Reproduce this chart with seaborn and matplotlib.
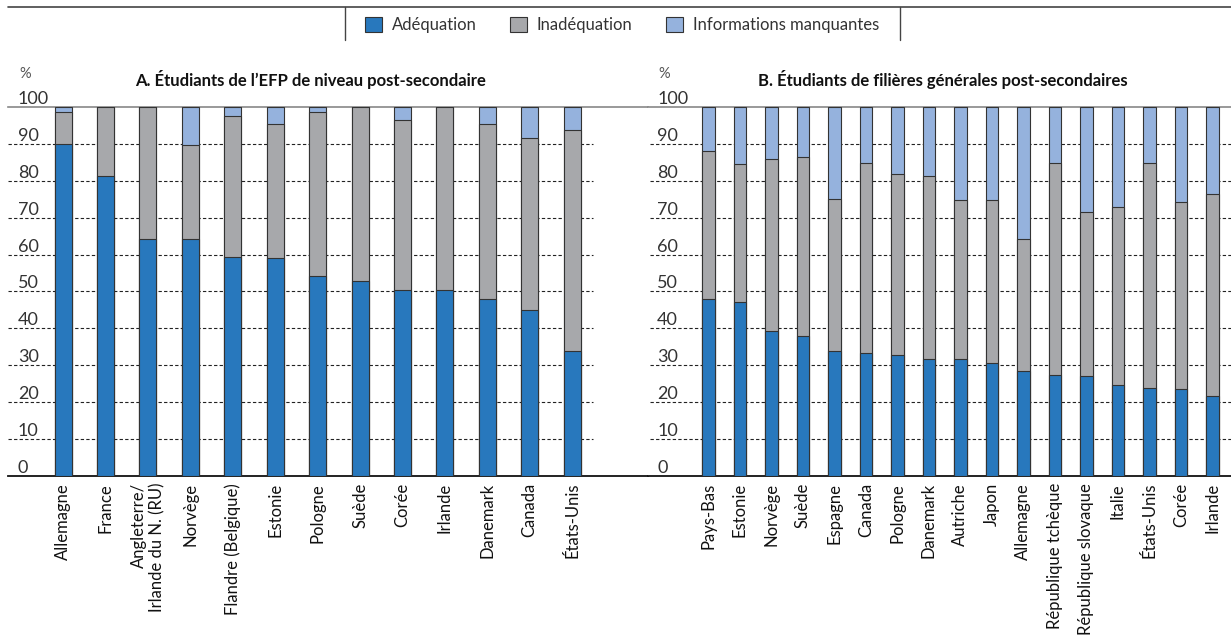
import pandas as pd
import matplotlib.pyplot as plt
import seaborn as sns
from matplotlib.patches import Patch
from matplotlib.lines import Line2D

# Panel A - VET post-secondary students
pays_a = ["Allemagne", "France", "Angleterre/\nIrlande du N. (RU)", "Norvège", "Flandre (Belgique)",
          "Estonie", "Pologne", "Suède", "Corée", "Irlande", "Danemark", "Canada", "États-Unis"]
adeq_a = [89.9, 81.3, 64.3, 64.3, 59.4, 59.1, 54.3, 52.9, 50.5, 50.3, 48.1, 45.1, 33.8]
inadeq_a = [8.8, 18.7, 35.7, 25.3, 38.2, 36.2, 44.4, 47.1, 45.9, 49.7, 47.4, 46.6, 60.0]
manq_a = [1.3, 0.0, 0.0, 10.4, 2.4, 4.7, 1.3, 0.0, 3.6, 0.0, 4.5, 8.3, 6.2]

# Panel B - general post-secondary students
pays_b = ["Pays-Bas", "Estonie", "Norvège", "Suède", "Espagne", "Canada", "Pologne", "Danemark",
          "Autriche", "Japon", "Allemagne", "République tchèque", "République slovaque", "Italie",
          "États-Unis", "Corée", "Irlande"]
adeq_b = [48.1, 47.1, 39.2, 38.0, 33.8, 33.3, 32.7, 31.7, 31.6, 30.5, 28.5, 27.4, 27.2, 24.6, 23.8, 23.5, 21.6]
inadeq_b = [39.9, 37.4, 46.7, 48.4, 41.2, 51.4, 49.1, 49.7, 43.2, 44.3, 35.8, 57.4, 44.4, 48.3, 61.0, 50.7, 54.9]
manq_b = [12.0, 15.5, 14.1, 13.6, 25.0, 15.3, 18.2, 18.6, 25.2, 25.2, 35.7, 15.2, 28.4, 27.1, 15.2, 25.8, 23.5]

series = ["Adéquation", "Inadéquation", "Informations manquantes"]
colors = ["#2878bd", "#a7a8ab", "#95b2dd"]
edge = "#333333"
txt = "#333333"

sns.set_style("white")
plt.rcParams["font.family"] = ["Lato", "DejaVu Sans"]

W, H = 1231, 636
fig = plt.figure(figsize=(W / 100, H / 100), dpi=100)


def px_axes(left, right, top, bottom):
    return fig.add_axes([left / W, 1 - bottom / H, (right - left) / W, (bottom - top) / H])


def draw_panel(ax, pays, adeq, inadeq, manq, xlim, grid_x, title, title_x, label_pad):
    df = pd.DataFrame({"pays": pays, "a": adeq, "i": inadeq, "m": manq})
    df["top_i"] = df["a"] + df["i"]
    df["top_m"] = df["top_i"] + df["m"]
    # stacked bars drawn from the tallest layer to the shortest
    for col, c in zip(["top_m", "top_i", "a"], colors[::-1]):
        sns.barplot(data=df, x="pays", y=col, order=pays, color=c, width=0.4,
                    edgecolor=edge, linewidth=0.8, saturation=1, ax=ax, zorder=3)
    ax.set_xlim(*xlim)
    ax.set_ylim(0, 100)
    ax.set_xlabel("")
    ax.set_ylabel("")
    for y in range(10, 100, 10):
        ax.axhline(y, xmin=grid_x[0], xmax=grid_x[1], color="#222222", lw=0.8,
                   ls=(0, (3, 2)), zorder=1)
    for s in ["left", "right"]:
        ax.spines[s].set_visible(False)
    ax.spines["top"].set_color("#888888")
    ax.spines["top"].set_linewidth(1.2)
    ax.spines["bottom"].set_color("#111111")
    ax.spines["bottom"].set_linewidth(1.3)
    ax.set_yticks(range(0, 101, 10))
    ax.tick_params(axis="y", length=0, pad=-label_pad, labelsize=13, labelcolor=txt)
    for lab in ax.get_yticklabels():
        lab.set_horizontalalignment("left")
        lab.set_verticalalignment("bottom")
    ax.tick_params(axis="x", length=0, pad=5, labelsize=12, labelcolor="#111111")
    ax.set_xticks(range(len(pays)))
    ax.set_xticklabels(pays, rotation=90, ha="center", va="top", multialignment="right")
    ax.text(title_x, 1.075, title, transform=ax.transAxes, ha="center", va="center",
            fontsize=12, fontweight="bold", color="#111111")
    ax.text(label_pad / 72 * 100 / ax.bbox.width + 0.002, 1.09, "%", transform=ax.transAxes,
            ha="left", va="center", fontsize=10.5, color="#555555")


ax_a = px_axes(8, 648, 107, 476)
draw_panel(ax_a, pays_a, adeq_a, inadeq_a, manq_a, (-1.30, 13.79), (0, 0.914),
           "A. Étudiants de l\u2019EFP de niveau post-secondaire", 0.473, 7.2)

ax_b = px_axes(648, 1231, 107, 476)
draw_panel(ax_b, pays_b, adeq_b, inadeq_b, manq_b, (-1.92, 16.59), (0.003, 1),
           "B. Étudiants de filières générales post-secondaires", 0.506, 6.5)

# legend with its frame lines
handles = [Patch(facecolor=c, edgecolor=edge, linewidth=0.8, label=s) for c, s in zip(colors, series)]
fig.legend(handles=handles, loc="center", bbox_to_anchor=(622 / W, 1 - 25 / H), ncol=3,
           frameon=False, fontsize=12, handlelength=1.0, handleheight=1.0,
           columnspacing=2.0, handletextpad=0.6, labelcolor=txt)
fig.add_artist(Line2D([8 / W, 1], [1 - 7 / H, 1 - 7 / H], color="#444444", lw=1.2))
for x in (345, 900):
    fig.add_artist(Line2D([x / W, x / W], [1 - 7 / H, 1 - 40 / H], color="#444444", lw=1.0))

fig.savefig("out.png", dpi=100)
